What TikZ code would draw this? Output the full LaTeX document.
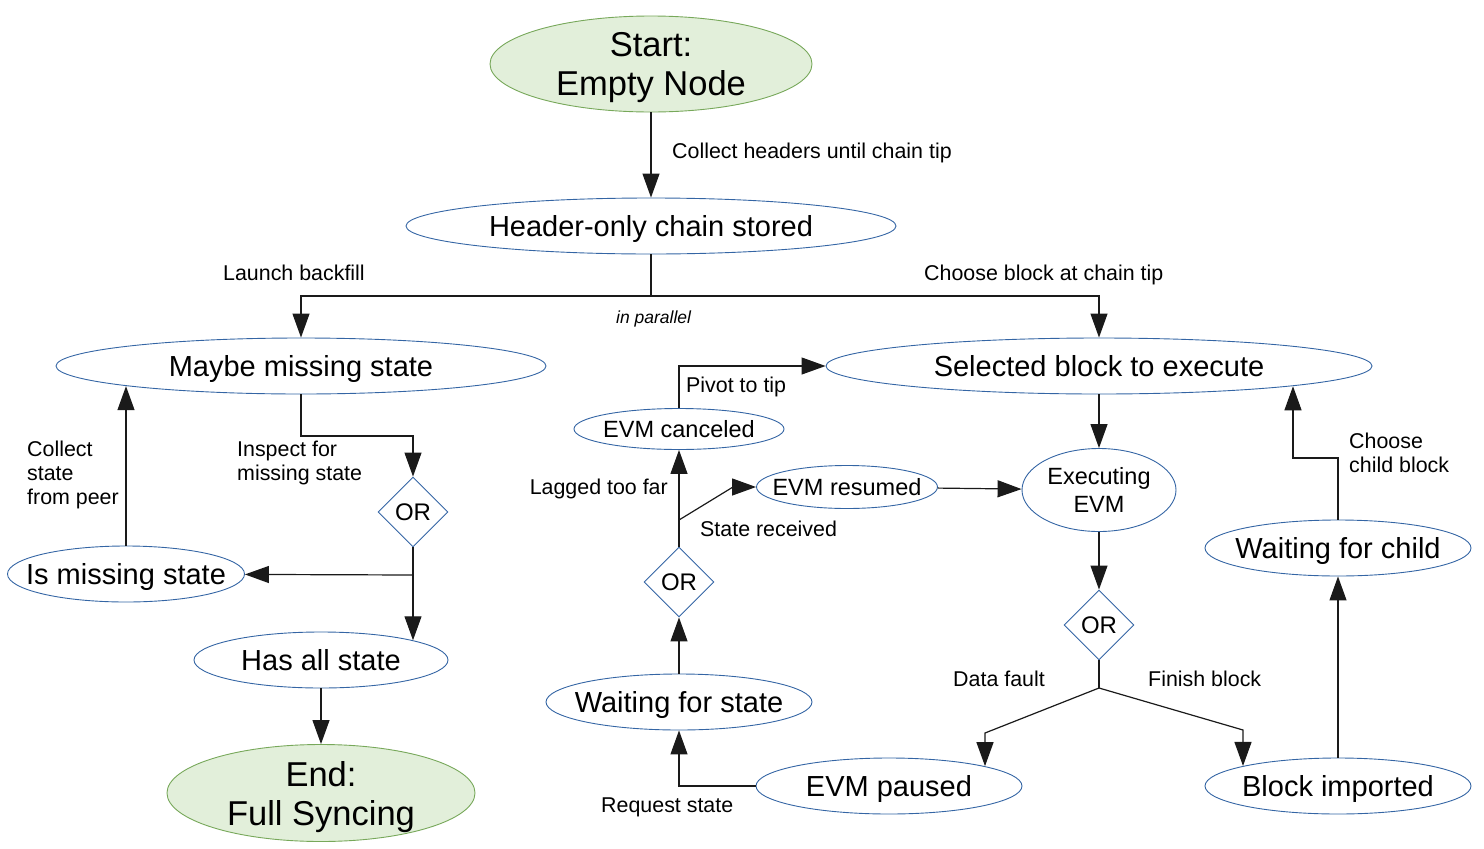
\documentclass[tikz,border=0pt]{standalone}
\usepackage{fontspec}
\setmainfont{Liberation Sans}
\usetikzlibrary{shapes.geometric,arrows.meta}
\definecolor{nodeblue}{HTML}{3465A4}
\definecolor{termfill}{HTML}{E2EFDA}
\definecolor{termdraw}{HTML}{77A85A}
\definecolor{linecol}{HTML}{1A1A1A}
\newcommand{\zw}[1]{\makebox[0pt]{#1}}
\tikzset{
  st/.style={ellipse, draw=nodeblue, line width=0.9pt, inner sep=0pt, align=center,
    text height=21pt, text depth=0pt, font=\fontsize{29}{34}\selectfont},
  smallst/.style={st, text height=17pt, font=\fontsize{23.5}{28}\selectfont},
  twoline/.style={text height=, text depth=0pt},
  term/.style={st, twoline, fill=termfill, draw=termdraw,
    font=\fontsize{34.5}{39}\selectfont},
  ornode/.style={diamond, draw=nodeblue, line width=0.9pt, inner sep=0pt,
    minimum width=70pt, minimum height=70pt, text height=17.4pt, text depth=0pt,
    font=\fontsize{24}{28}\selectfont},
  lbl/.style={inner sep=0pt, align=left, text height=15.6pt, text depth=0pt,
    font=\fontsize{21.4}{24}\selectfont},
  mlbl/.style={lbl, text height=},
  ln/.style={draw=linecol, line width=1.2pt},
  conn/.style={ln, -{Triangle[width=17pt,length=24pt]}},
}
\begin{document}
\begin{tikzpicture}[x=1pt,y=-1pt]
\useasboundingbox (0,0) rectangle (1484,849);
% nodes
\node[term, minimum width=322pt, minimum height=96pt] (start) at (651,64) {Start:\\Empty Node};
\node[st, minimum width=490pt, minimum height=56pt] (header) at (651,226) {\zw{Header-only chain stored}};
\node[st, minimum width=490pt, minimum height=56pt] (maybe) at (301,366) {\zw{Maybe missing state}};
\node[st, minimum width=546pt, minimum height=56pt] (selected) at (1099,366) {\zw{Selected block to execute}};
\node[smallst, minimum width=210pt, minimum height=41pt] (canceled) at (679,429) {\zw{EVM canceled}};
\node[smallst, minimum width=181pt, minimum height=43pt] (resumed) at (847,487) {\zw{EVM resumed}};
\node[smallst, twoline, minimum width=154pt, minimum height=83pt] (executing) at (1099,490) {Executing\\EVM};
\node[ornode] (or1) at (413,512) {OR};
\node[ornode] (or2) at (679,582) {OR};
\node[ornode] (or3) at (1099,625) {OR};
\node[st, minimum width=266pt, minimum height=56pt] (waitchild) at (1338,548) {\zw{Waiting for child}};
\node[st, minimum width=237pt, minimum height=56pt] (ismissing) at (126,574) {\zw{Is missing state}};
\node[st, minimum width=254pt, minimum height=56pt] (hasall) at (321,660) {\zw{Has all state}};
\node[st, minimum width=266pt, minimum height=56pt] (waitstate) at (679,702) {\zw{Waiting for state}};
\node[term, minimum width=308pt, minimum height=97pt] (end) at (321,793) {End:\\Full Syncing};
\node[st, minimum width=266pt, minimum height=56pt] (paused) at (889,786) {\zw{EVM paused}};
\node[st, minimum width=266pt, minimum height=56pt] (imported) at (1338,786) {\zw{Block imported}};
% helper coordinates
\coordinate (split) at (651,296);
\coordinate (c1) at (413,436);
\coordinate (c2) at (413,575);
\coordinate (c3) at (679,520);
\coordinate (c4) at (733,487);
\coordinate (c5) at (1099,688);
\coordinate (c6) at (985,733);
\coordinate (c8) at (1243,730);
\coordinate (c7) at (1293,458);
% connectors
\draw[conn] (start) -- (header);
\draw[ln] (header) -- (split);
\draw[conn] (split) -| (maybe);
\draw[conn] (split) -| (selected);
\draw[conn] (maybe) |- (c1) -- (or1);
\draw[ln] (or1) -- (c2);
\draw[conn] (c2) -- (ismissing);
\draw[conn, shorten >=-8.7pt] (c2) -- (c2 |- hasall.north);
\draw[conn, shorten >=-8.3pt] (ismissing.north) -- (ismissing.north |- maybe.south);
\draw[conn] (hasall) -- (end);
\draw[conn] (or2) -- (canceled);
\draw[conn] (c3) -- (c4) -- (resumed);
\draw[conn] (canceled) |- (selected);
\draw[conn] (resumed) -- (executing);
\draw[conn] (selected) -- (executing);
\draw[conn] (executing) -- (or3);
\draw[ln] (or3) -- (c5);
\draw[conn, shorten >=-8.6pt] (c5) -- (c6) -- (c6 |- paused.north);
\draw[conn, shorten >=-8.4pt] (c5) -- (c8) -- (c8 |- imported.north);
\draw[conn] (paused) -| (waitstate);
\draw[conn] (waitstate) -- (or2);
\draw[conn] (imported) -- (waitchild);
\draw[conn, shorten >=-8.2pt] (waitchild) |- (c7) -- (c7 |- selected.south);
% labels
\node[lbl, anchor=west] (l1) at (672,151) {Collect headers until chain tip};
\node[lbl, anchor=west] (l2) at (223,273) {Launch backfill};
\node[lbl, anchor=west] (l3) at (924,273) {Choose block at chain tip};
\node[lbl, anchor=west, text height=12.8pt, font=\fontsize{17.5}{21}\selectfont\itshape] (l4) at (616,317) {in parallel};
\node[mlbl, anchor=west] (l5) at (237,461) {Inspect for\\missing state};
\node[mlbl, anchor=west] (l6) at (27,473) {Collect\\state\\from peer};
\node[lbl, anchor=west] (l7) at (686,385) {Pivot to tip};
\node[lbl, anchor=east] (l8) at (668,487) {Lagged too far};
\node[lbl, anchor=west] (l9) at (700,529) {State received};
\node[lbl, anchor=west] (l10) at (953,679) {Data fault};
\node[lbl, anchor=west] (l11) at (1148,679) {Finish block};
\node[lbl, anchor=west] (l12) at (601,805) {Request state};
\node[mlbl, anchor=west] (l13) at (1349,453) {Choose\\child block};
\end{tikzpicture}
\end{document}
